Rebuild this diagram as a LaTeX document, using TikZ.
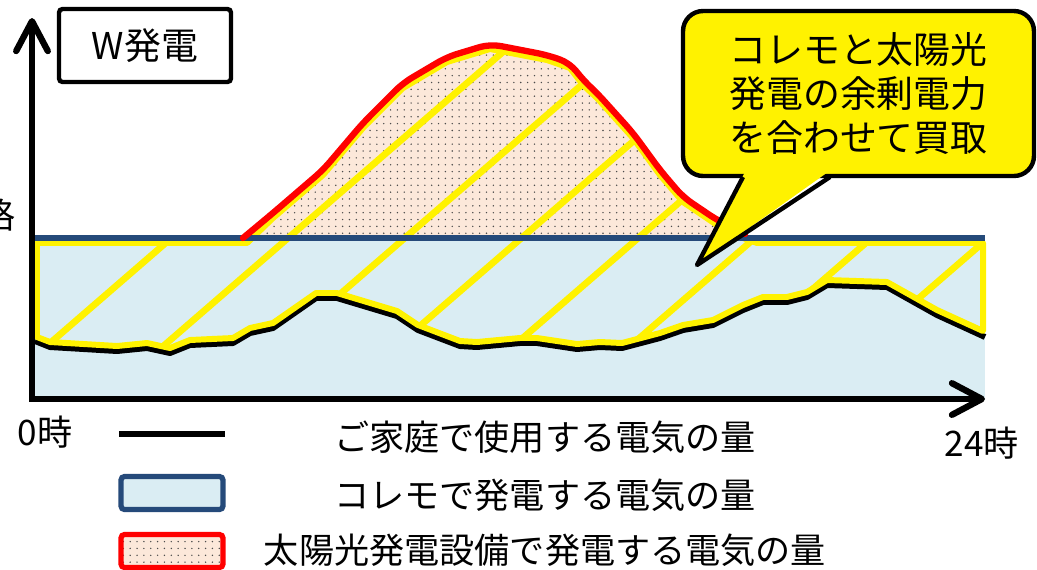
\documentclass[tikz,border=0pt]{standalone}
\usepackage{fontspec}
\setmainfont{Noto Sans CJK JP}
\usetikzlibrary{positioning,arrows.meta,patterns.meta}

\definecolor{komoblue}{RGB}{218,237,243}
\definecolor{komoline}{RGB}{37,74,122}
\definecolor{solarfill}{RGB}{252,232,218}

\tikzset{
  axis/.style={line width=3.6pt, line join=miter,
    {Straight Barb[length=17pt,width=18pt,round]}-{Straight Barb[length=17pt,width=18pt,round]}},
  useline/.style={line width=3.4pt, line join=round},
  yelline/.style={yellow, line width=3.8pt, line join=round},
  redline/.style={red, line width=3.6pt, line join=round, line cap=round, rounded corners=6pt},
  solarzone/.style={preaction={fill=solarfill},
    pattern={Dots[distance=3.9pt,radius=0.45pt]}, pattern color=black!70},
  lbl/.style={font=\fontsize{20pt}{24pt}\selectfont, inner sep=0pt},
  boxlbl/.style={draw, line width=2.5pt, rounded corners=2pt,
    font=\fontsize{21pt}{25pt}\selectfont},
}

\begin{document}
\begin{tikzpicture}[x=0.02cm, y=-0.02cm]
\useasboundingbox (0,0) rectangle (1037,569);

% curves (image pixels)
\def\useblk{-- (50,347) -- (117,351) -- (147,348) -- (170,353) -- (190,345)
  -- (233,343) -- (250,333) -- (273,328) -- (316,298) -- (337,298) -- (397,316)
  -- (418,330) -- (460,346) -- (477,347) -- (520,343) -- (537,343) -- (577,349)
  -- (600,347) -- (622,348) -- (660,338) -- (683,330) -- (713,325) -- (743,310)
  -- (763,302) -- (787,302) -- (807,297) -- (827,285) -- (887,287) -- (937,315)
  -- (985,337)}
\def\useyel{-- (50,342) -- (117,346) -- (147,343) -- (170,348) -- (190,340)
  -- (233,338) -- (250,328) -- (273,323) -- (316,293) -- (337,293) -- (397,311)
  -- (418,325) -- (460,341) -- (477,342) -- (520,338) -- (537,338) -- (577,344)
  -- (600,342) -- (622,343) -- (660,333) -- (683,325) -- (713,320) -- (743,305)
  -- (763,297) -- (787,297) -- (807,292) -- (827,280) -- (887,282) -- (937,310)
  -- (983,331)}
\def\solred{-- (273,213) -- (323,170) -- (363,123) -- (403,83) -- (447,57)
  -- (490,44) -- (547,55) -- (570,63) -- (583,80) -- (597,93) -- (633,133)
  -- (660,170) -- (683,197) -- (717,220) -- (745,234)}
\def\solyelrev{-- (740,237) -- (717,225) -- (683,202) -- (660,175) -- (633,138)
  -- (597,98) -- (583,85) -- (570,68) -- (547,60) -- (490,49) -- (447,62)
  -- (403,88) -- (363,128) -- (323,175) -- (273,218) -- (247,243)}

\fill[komoblue] (35,240) rectangle (985,399);
\path[solarzone] (243,238) \solred -- (757,240) -- (243,240) -- cycle;

\begin{scope}
\clip (37,337) \useyel -- (983,243) -- (757,243) \solyelrev -- (37,243) -- cycle;
\foreach \k in {0,...,7}
  \draw[yelline] ({167+116.7*\k-230},441) -- ++(500,-433);
\end{scope}

\draw[useline] (35,341) \useblk;
\draw[yelline, line width=3.4pt] (37,337) \useyel -- (983,243) -- (757,243) \solyelrev -- (37,243) -- cycle;
\draw[komoline, line width=3pt] (33,238) -- (985,238);
\draw[redline] (243,238) \solred;

% axes
\draw[axis] (32,18) -- (32,399) -- (985,399);
\node[lbl] (kaku) at (-2,215) {格};
\node[lbl] (zero) at (45,432) {0時};
\node[lbl] (last) at (982,443) {24時};

\node[boxlbl, minimum width=3.44cm, minimum height=1.46cm] (wbox) at (145,45.5) {W発電};

% callout
\node[boxlbl, fill=yellow, rounded corners=0.4cm, align=center,
  minimum width=7.02cm, minimum height=3.3cm] (msg) at (858.5,93.5)
  {コレモと太陽光\\発電の余剰電力\\を合わせて買取};
\coordinate (tip) at (697,265);
\fill[yellow] (745,172) -- (828,172) -- (tip) -- cycle;
\draw[line width=2.5pt, line join=round] (743,177) -- (tip) -- (830,177);

% legend
\coordinate (useA) at (119,434);
\coordinate (useB) at (225,434);
\draw[useline] (useA) -- (useB);
\node[draw=komoline, fill=komoblue, line width=3pt, rounded corners=2pt,
  minimum width=2.04cm, minimum height=0.66cm] (legkomo) at (172,493) {};
\node[draw=red, solarzone, line width=3pt, rounded corners=2pt,
  minimum width=2.04cm, minimum height=0.66cm] (legsolar) at (172,551) {};
\node[lbl] (txtuse) at (545,437) {ご家庭で使用する電気の量};
\node[lbl] (txtkomo) at (545,495) {コレモで発電する電気の量};
\node[lbl] (txtsolar) at (545,550) {太陽光発電設備で発電する電気の量};
\end{tikzpicture}
\end{document}
